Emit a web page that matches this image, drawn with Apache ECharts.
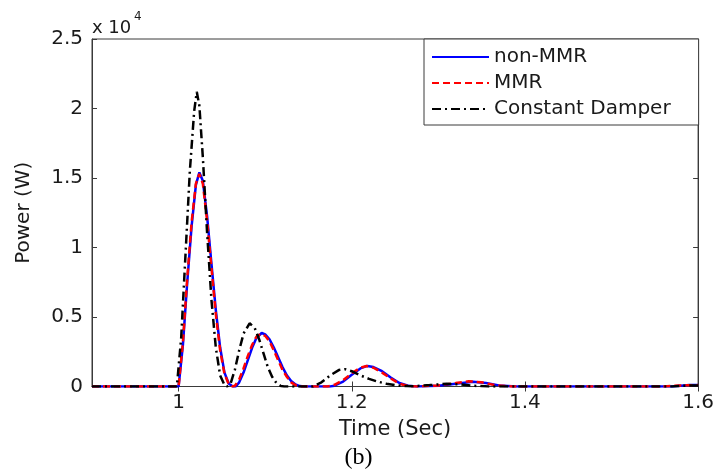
<!DOCTYPE html>
<html>
<head>
<meta charset="utf-8">
<script src="https://cdn.jsdelivr.net/npm/echarts@6/dist/echarts.min.js"></script>
<style>html,body{margin:0;padding:0;background:#fff;}#c{width:717px;height:474px;}</style>
</head>
<body>
<div id="c"></div>
<script>
// ---- data (Power in W, time in s) ----
const xTicks = [1, 1.2, 1.4, 1.6];
const yTicks = [0, 5000, 10000, 15000, 20000, 25000];
const seriesNames = ['non-MMR', 'MMR', 'Constant Damper'];

const nonMmrTime = [0.9, 1.0, 1.005, 1.01, 1.015, 1.02, 1.024, 1.028, 1.033, 1.038, 1.043, 1.048, 1.053, 1.058, 1.063, 1.066, 1.07, 1.075, 1.08, 1.085, 1.09, 1.096, 1.1, 1.105, 1.11, 1.115, 1.12, 1.125, 1.13, 1.135, 1.14, 1.145, 1.175, 1.18, 1.19, 1.2, 1.21, 1.218, 1.225, 1.235, 1.245, 1.255, 1.265, 1.275, 1.3, 1.32, 1.34, 1.355, 1.37, 1.39, 1.57, 1.59, 1.6];
const nonMmrPower = [0, 0, 3000, 7500, 11500, 14500, 15400, 14800, 12200, 8800, 5500, 2800, 1000, 200, 0, 0, 300, 1000, 1900, 2800, 3500, 3850, 3750, 3400, 2800, 2100, 1400, 800, 400, 150, 30, 0, 0, 60, 350, 850, 1300, 1480, 1400, 1100, 650, 250, 50, 0, 50, 200, 350, 250, 80, 0, 0, 100, 100];

const mmrTime = [0.9, 1.0, 1.005, 1.01, 1.015, 1.02, 1.024, 1.028, 1.033, 1.038, 1.043, 1.048, 1.053, 1.058, 1.062, 1.065, 1.07, 1.075, 1.08, 1.085, 1.09, 1.095, 1.1, 1.105, 1.11, 1.115, 1.12, 1.125, 1.13, 1.135, 1.14, 1.172, 1.18, 1.19, 1.2, 1.21, 1.217, 1.225, 1.235, 1.245, 1.255, 1.265, 1.275, 1.3, 1.32, 1.335, 1.35, 1.365, 1.385, 1.56, 1.58, 1.6];
const mmrPower = [0, 0, 3200, 7800, 11800, 14600, 15300, 14600, 11900, 8500, 5200, 2600, 900, 150, 0, 50, 500, 1300, 2200, 3000, 3600, 3800, 3650, 3250, 2600, 1900, 1200, 700, 300, 100, 0, 0, 120, 450, 950, 1350, 1470, 1350, 1000, 580, 200, 40, 0, 80, 250, 380, 300, 100, 0, 0, 80, 100];

const damperTime = [0.9, 0.998, 1.003, 1.008, 1.013, 1.018, 1.021, 1.024, 1.028, 1.033, 1.038, 1.043, 1.048, 1.053, 1.056, 1.06, 1.065, 1.07, 1.075, 1.082, 1.088, 1.093, 1.098, 1.103, 1.108, 1.113, 1.118, 1.122, 1.155, 1.165, 1.175, 1.185, 1.192, 1.2, 1.21, 1.22, 1.23, 1.24, 1.25, 1.26, 1.27, 1.29, 1.31, 1.325, 1.34, 1.36, 1.57, 1.59, 1.6];
const damperPower = [0, 0, 3500, 9500, 15500, 19800, 21200, 20200, 16500, 11000, 6200, 2800, 800, 100, 0, 200, 1200, 2600, 3800, 4550, 4200, 3400, 2400, 1400, 700, 250, 40, 0, 0, 300, 800, 1180, 1250, 1100, 800, 550, 350, 200, 100, 40, 20, 100, 200, 150, 50, 0, 0, 80, 80];

// ---- build ----
const pair = (t, p) => t.map((v, i) => [v, p[i]]);
const FONT = 'DejaVu Sans';
const chart = echarts.init(document.getElementById('c'), null, {renderer: 'canvas'});

const axisLineStyle = {color: '#3a3a3a', width: 1};
const option = {
  backgroundColor: '#ffffff',
  animation: false,
  grid: {left: 92, right: 18, top: 39, bottom: 87.5, show: true, borderColor: '#3a3a3a', borderWidth: 1, backgroundColor: 'transparent'},
  xAxis: [{
    type: 'value', min: 0.9, max: 1.6, position: 'bottom',
    name: 'Time (Sec)', nameLocation: 'middle', nameGap: 33,
    nameTextStyle: {fontFamily: FONT, fontSize: 21, color: '#1a1a1a'},
    axisLine: {show: true, lineStyle: axisLineStyle},
    axisTick: {show: true, inside: true, length: 5, customValues: xTicks, lineStyle: axisLineStyle},
    axisLabel: {show: true, customValues: xTicks, margin: 6, fontFamily: FONT, fontSize: 20, color: '#1a1a1a', formatter: v => String(v)},
    splitLine: {show: false}
  }, {
    type: 'value', min: 0.9, max: 1.6, position: 'top',
    axisLine: {show: true, lineStyle: axisLineStyle},
    axisTick: {show: true, inside: true, length: 5, customValues: xTicks, lineStyle: axisLineStyle},
    axisLabel: {show: false},
    splitLine: {show: false}
  }],
  yAxis: [{
    type: 'value', min: 0, max: 25000, interval: 5000, position: 'left',
    name: 'Power (W)', nameLocation: 'middle', nameGap: 58,
    nameTextStyle: {fontFamily: FONT, fontSize: 20, color: '#1a1a1a'},
    axisLine: {show: true, lineStyle: axisLineStyle},
    axisTick: {show: true, inside: true, length: 5, lineStyle: axisLineStyle},
    axisLabel: {margin: 9, fontFamily: FONT, fontSize: 20, color: '#1a1a1a', formatter: v => String(v / 10000)},
    splitLine: {show: false}
  }, {
    type: 'value', min: 0, max: 25000, interval: 5000, position: 'right',
    axisLine: {show: true, lineStyle: axisLineStyle},
    axisTick: {show: true, inside: true, length: 5, lineStyle: axisLineStyle},
    axisLabel: {show: false},
    splitLine: {show: false}
  }],
  legend: {
    show: true,
    orient: 'vertical', left: 424, top: 39,
    padding: [8, 28, 6, 7],
    itemWidth: 57, itemHeight: 14, itemGap: 6,
    backgroundColor: '#ffffff', borderColor: '#3a3a3a', borderWidth: 1,
    itemStyle: {color: 'transparent', borderColor: 'transparent', borderWidth: 0, opacity: 0},
    textStyle: {fontFamily: FONT, fontSize: 20, color: '#1a1a1a', lineHeight: 20},
    data: seriesNames
  },
  graphic: [
    {type: 'text', left: 92, top: 19, style: {text: 'x 10', font: '18px "DejaVu Sans"', fill: '#1a1a1a'}},
    {type: 'text', left: 134, top: 11, style: {text: '4', font: '12px "DejaVu Sans"', fill: '#1a1a1a'}},
    {type: 'text', left: 'center', top: 446, style: {text: '(b)', font: '24px "Liberation Serif"', fill: '#000'}}
  ],
  series: [
    {name: seriesNames[0], type: 'line', xAxisIndex: 0, yAxisIndex: 0, showSymbol: false, symbol: 'none',
     data: pair(nonMmrTime, nonMmrPower), lineStyle: {color: '#0000ff', width: 2.5, type: 'solid'}, itemStyle: {color: '#0000ff'}},
    {name: seriesNames[1], type: 'line', xAxisIndex: 0, yAxisIndex: 0, showSymbol: false, symbol: 'none',
     data: pair(mmrTime, mmrPower), lineStyle: {color: '#ff0000', width: 2.5, type: [7, 4]}, itemStyle: {color: '#ff0000'}},
    {name: seriesNames[2], type: 'line', xAxisIndex: 0, yAxisIndex: 0, showSymbol: false, symbol: 'none',
     data: pair(damperTime, damperPower), lineStyle: {color: '#000000', width: 2.5, type: [9, 4, 2, 4]}, itemStyle: {color: '#000000'}}
  ]
};
chart.setOption(option);
</script>
</body>
</html>
